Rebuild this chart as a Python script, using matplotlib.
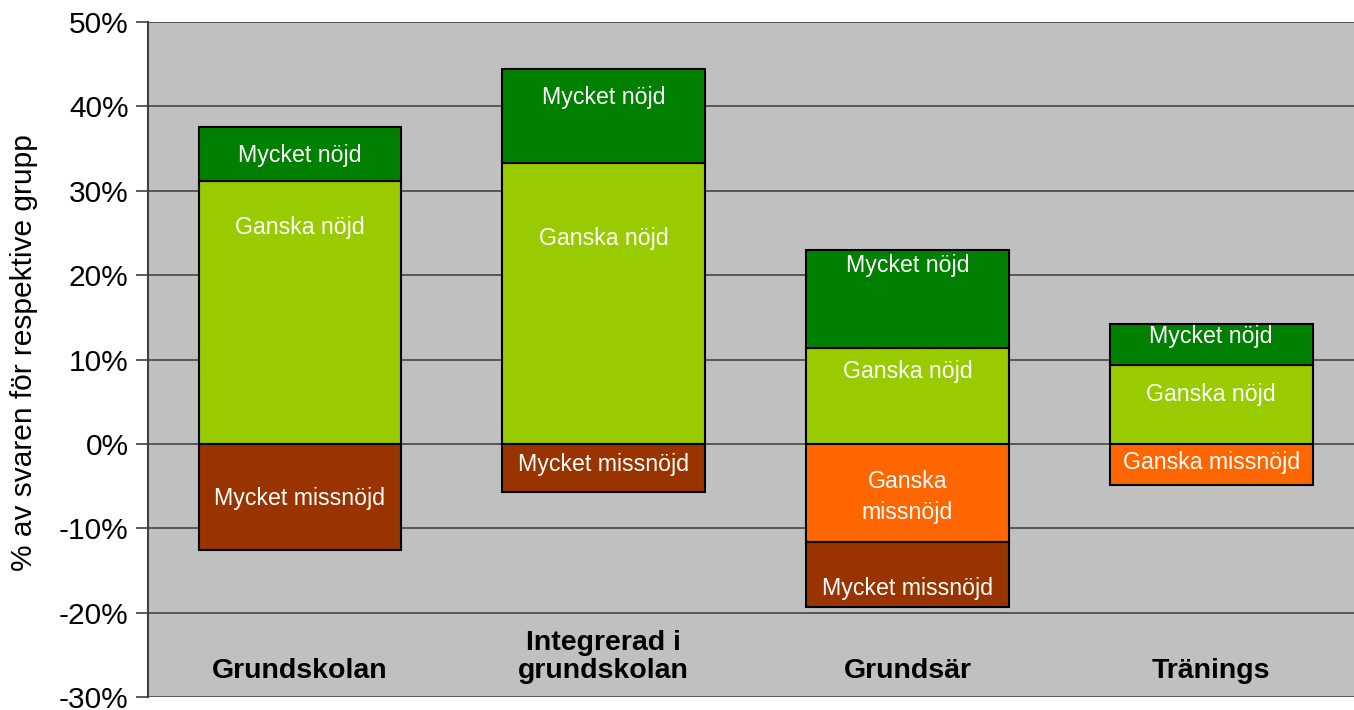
import numpy as np
import matplotlib.pyplot as plt

plt.rcParams['font.family'] = ['Liberation Sans', 'DejaVu Sans']

categories = ["Grundskolan", "Integrerad i\ngrundskolan", "Grundsär", "Tränings"]

# percent of answers per group
mycket_nojd = [6.3, 11.1, 11.6, 4.8]
ganska_nojd = [31.2, 33.3, 11.4, 9.4]
ganska_missnojd = [0.0, 0.0, 11.6, 4.9]
mycket_missnojd = [12.6, 5.7, 7.7, 0.0]

# where the text labels sit (y in %), like the hand-placed boxes in the original
label_y_mycket_nojd = [34.2, 41.0, 21.2, 12.7]
label_y_ganska_nojd = [25.6, 24.4, 8.6, 5.9]
label_y_ganska_miss = [None, None, -6.3, -2.25]
label_y_mycket_miss = [-6.5, -2.4, -17.1, None]

c_mn = "#008000"
c_gn = "#99CC00"
c_gm = "#FF6600"
c_mm = "#993300"

x = np.arange(len(categories))
w = 0.667

fig = plt.figure(figsize=(13.54, 7.10), dpi=100)
ax = fig.add_axes([0.1093, 0.0183, 0.8907, 0.9507])
ax.set_facecolor("#C0C0C0")

gn = np.array(ganska_nojd)
mn = np.array(mycket_nojd)
gm = np.array(ganska_missnojd)
mm = np.array(mycket_missnojd)

kw = dict(width=w, edgecolor="black", linewidth=1.5, zorder=3)
ax.bar(x, gn, bottom=0, color=c_gn, **kw)
ax.bar(x, mn, bottom=gn, color=c_mn, **kw)
has_gm = gm > 0
ax.bar(x[has_gm], -gm[has_gm], bottom=0, color=c_gm, **kw)
has_mm = mm > 0
ax.bar(x[has_mm], -mm[has_mm], bottom=-gm[has_mm], color=c_mm, **kw)

tk = dict(ha="center", va="center", color="white", fontsize=16.7, zorder=4)
for i in range(len(categories)):
    ax.text(x[i], label_y_mycket_nojd[i], "Mycket nöjd", **tk)
    ax.text(x[i], label_y_ganska_nojd[i], "Ganska nöjd", **tk)
    if label_y_ganska_miss[i] is not None:
        txt = "Ganska\nmissnöjd" if gm[i] > 8 else "Ganska missnöjd"
        ax.text(x[i], label_y_ganska_miss[i], txt, linespacing=1.45, **tk)
    if label_y_mycket_miss[i] is not None:
        ax.text(x[i], label_y_mycket_miss[i], "Mycket missnöjd", **tk)

for i, cat in enumerate(categories):
    ax.text(x[i], -28.4, cat, ha="center", va="bottom", fontsize=20.5,
            fontweight="bold", linespacing=1.1, zorder=4)

ax.set_xlim(-0.5, 3.47)
ax.set_ylim(-30, 50)
ax.set_yticks(np.arange(-30, 51, 10))
ax.set_yticklabels([f"{v}%" for v in range(-30, 51, 10)])
ax.yaxis.grid(True, color="#3a3a3a", linewidth=1.1, zorder=1)
ax.set_axisbelow(True)
ax.set_xticks([])
ax.tick_params(axis="y", labelsize=21.5, length=9, width=1.2, color="#404040", pad=5)

for s in ["top", "right", "bottom"]:
    ax.spines[s].set_visible(False)
ax.spines["left"].set_color("#404040")
ax.spines["left"].set_linewidth(1.5)

ax.set_ylabel("% av svaren för respektive grupp", fontsize=21.5)
ax.yaxis.set_label_coords(-0.091, 0.51)

fig.savefig("out.png", dpi=100)
